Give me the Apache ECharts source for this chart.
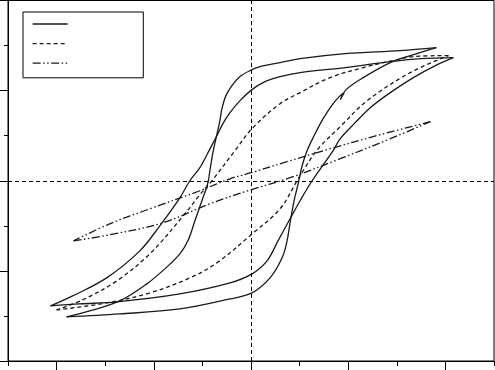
<!DOCTYPE html>
<html><head><meta charset="utf-8">
<script src="https://cdn.jsdelivr.net/npm/echarts@6/dist/echarts.min.js"></script>
<style>html,body{margin:0;padding:0;background:#fff}#c{width:495px;height:370px}</style>
</head><body><div id="c"></div>
<script>
// legend entries (no visible text in the reference)
const seriesNames = ['loop A', 'loop B', 'loop C'];

// axis extents (no tick labels shown in the reference)
const xRange = [-2.5, 2.5];
const yRange = [-4, 4];

// solid curve, outer loop: descending branch then ascending branch
const solid1Down = [[2.082,2.733],[1.742,2.711],[1.433,2.644],[0.969,2.511],[0.505,2.4],[0.299,2.311],[0.144,2.2],[0.010,2.022],[-0.113,1.778],[-0.216,1.511],[-0.289,1.267],[-0.361,0.956],[-0.443,0.622],[-0.526,0.289],[-0.629,0],[-0.732,-0.378],[-0.938,-1.0],[-1.144,-1.556],[-1.485,-2.156],[-1.835,-2.556],[-2.062,-2.778]];
const solid1Up = [[-2.062,-2.778],[-1.763,-2.733],[-1.381,-2.689],[-0.732,-2.511],[-0.216,-2.267],[0.010,-2.067],[0.165,-1.778],[0.278,-1.333],[0.402,-0.844],[0.505,-0.444],[0.629,0],[0.845,0.667],[0.918,0.933],[1.072,1.289],[1.227,1.622],[1.433,1.956],[1.670,2.289],[1.897,2.556],[2.082,2.733]];
// solid curve, second loop
const solid2Down = [[1.907,2.956],[1.536,2.889],[0.969,2.822],[0.505,2.711],[0.299,2.622],[0.093,2.533],[-0.010,2.444],[-0.113,2.311],[-0.196,2.111],[-0.258,1.889],[-0.299,1.6],[-0.320,1.333],[-0.361,0.933],[-0.392,0.622],[-0.423,0.222],[-0.443,-0.044],[-0.505,-0.444],[-0.577,-0.889],[-0.649,-1.333],[-0.732,-1.622],[-0.887,-1.956],[-1.072,-2.289],[-1.351,-2.667],[-1.660,-2.889],[-1.897,-3.022]];
const solid2Up = [[-1.897,-3.022],[-1.351,-2.956],[-0.732,-2.844],[-0.216,-2.622],[0.010,-2.489],[0.196,-2.156],[0.320,-1.711],[0.371,-1.333],[0.402,-0.933],[0.443,-0.444],[0.485,-0.067],[0.526,0.333],[0.577,0.667],[0.639,0.956],[0.742,1.378],[0.845,1.711],[0.907,1.867],[0.959,1.956],[0.918,1.8],[0.979,2.022],[1.155,2.289],[1.433,2.622],[1.639,2.778],[1.907,2.956]];
// dashed loop
const dashedDown = [[2.031,2.778],[1.670,2.756],[1.505,2.689],[1.155,2.511],[0.814,2.289],[0.505,1.956],[0.299,1.711],[0.010,1.156],[-0.165,0.667],[-0.402,0],[-0.526,-0.311],[-0.680,-0.733],[-1.041,-1.622],[-1.381,-2.222],[-1.732,-2.644],[-2.0,-2.867]];
const dashedUp = [[-2.0,-2.867],[-1.485,-2.711],[-1.041,-2.489],[-0.629,-2.156],[-0.351,-1.822],[0,-1.2],[0.299,-0.622],[0.474,0],[0.536,0.222],[0.691,0.711],[0.918,1.2],[1.196,1.778],[1.639,2.4],[2.031,2.778]];
// dash-dot loop
const dotDown = [[1.845,1.311],[1.330,1.022],[0.814,0.711],[0.402,0.444],[0,0.178],[-0.216,0.044],[-0.526,-0.222],[-1.041,-0.622],[-1.454,-0.956],[-1.825,-1.333]];
const dotUp = [[-1.825,-1.333],[-1.454,-1.2],[-0.907,-0.933],[-0.423,-0.511],[0,-0.2],[0.402,0.067],[0.918,0.489],[1.433,0.933],[1.845,1.311]];

const lineColor = '#1a1a1a';
const dashDotDot = [8, 2.5, 1.5, 2.5, 1.5, 2.5];
function mk(name, data, type) {
  return {
    name: name, type: 'line', data: data, symbol: 'none', smooth: 0.35,
    lineStyle: { color: lineColor, width: 1.3, type: type },
    itemStyle: { color: lineColor },
    silent: true, animation: false
  };
}
const series = [
  mk(seriesNames[0], solid1Down, 'solid'),
  mk(seriesNames[0], solid1Up, 'solid'),
  mk(seriesNames[0], solid2Down, 'solid'),
  mk(seriesNames[0], solid2Up, 'solid'),
  mk(seriesNames[1], dashedDown, [4, 3]),
  mk(seriesNames[1], dashedUp, [4, 3]),
  mk(seriesNames[2], dotDown, dashDotDot),
  mk(seriesNames[2], dotUp, dashDotDot)
];
series[0].markLine = {
  silent: true, symbol: ['none', 'none'], animation: false,
  label: { show: false },
  lineStyle: { color: '#000', width: 1, type: [4, 3] },
  data: [{ xAxis: 0 }, { yAxis: 0 }]
};

const chart = echarts.init(document.getElementById('c'), null, { renderer: 'canvas' });
chart.setOption({
  animation: false,
  backgroundColor: '#fff',
  grid: { left: 8, right: 1, top: 0.5, bottom: 9, show: true, borderColor: '#000', borderWidth: 1, backgroundColor: 'transparent' },
  legend: {
    data: seriesNames, orient: 'vertical', left: 23, top: 12,
    itemWidth: 35, itemHeight: 14, itemGap: 7,
    padding: [5, 75, 9, 9],
    borderColor: '#000', borderWidth: 1,
    formatter: function () { return ''; },
    textStyle: { fontSize: 1 },
    itemStyle: { opacity: 0 },
    lineStyle: { width: 1.3 },
    selectedMode: false
  },
  xAxis: {
    type: 'value', min: xRange[0], max: xRange[1], interval: 1,
    axisLine: { show: true, onZero: false, lineStyle: { color: '#000', width: 1 } },
    axisTick: { show: true, inside: false, length: 5, lineStyle: { color: '#000', width: 1 } },
    minorTick: { show: true, splitNumber: 2, length: 9, lineStyle: { color: '#000', width: 1 } },
    axisLabel: { show: false }, splitLine: { show: false }
  },
  yAxis: {
    type: 'value', min: yRange[0], max: yRange[1], interval: 2,
    axisLine: { show: true, onZero: false, lineStyle: { color: '#000', width: 1 } },
    axisTick: { show: true, inside: false, length: 8, lineStyle: { color: '#000', width: 1 } },
    minorTick: { show: true, splitNumber: 2, length: 4, lineStyle: { color: '#000', width: 1 } },
    axisLabel: { show: false }, splitLine: { show: false }
  },
  series: series
});
</script>
</body></html>
